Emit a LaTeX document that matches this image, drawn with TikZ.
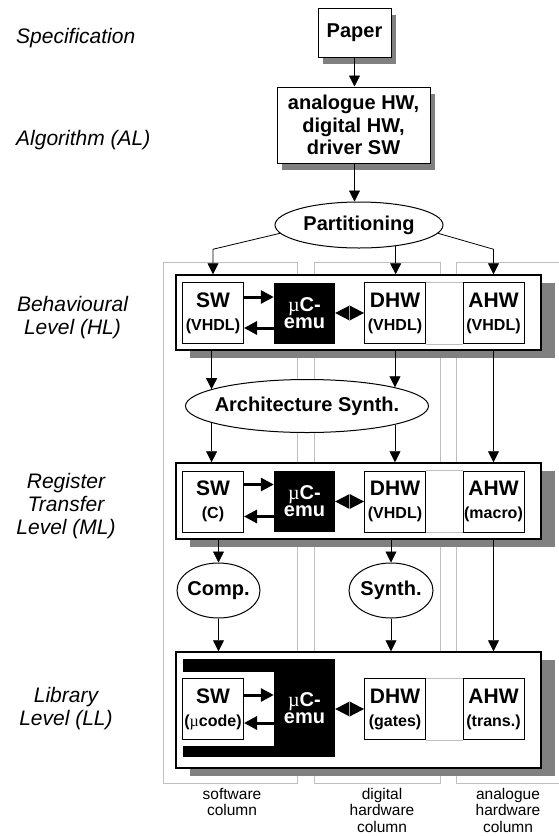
\documentclass[tikz,border=0pt]{standalone}
\usepackage{fontspec}
\setmainfont{Liberation Sans}
\newfontfamily\serifmu{Liberation Serif}
\usepackage{tikz}
\usetikzlibrary{shapes}
\usetikzlibrary{arrows.meta}
\usetikzlibrary{shadows}
\usetikzlibrary{calc}
\tikzstyle{frame}=[draw=black!25,line width=0.8pt]
\tikzstyle{link}=[draw=black!25,line width=0.8pt]
\tikzstyle{box}=[draw,fill=white,line width=1pt,inner sep=0pt,align=center,font=\bfseries\fontsize{20}{22.5}\selectfont,drop shadow={shadow xshift=5pt,shadow yshift=-7pt,opacity=1,fill=black!50}]
\tikzstyle{level}=[draw,fill=white,line width=1.5pt,minimum width=365pt,inner sep=0pt,drop shadow={shadow xshift=14pt,shadow yshift=-8pt,opacity=1,fill=black!50}]
\tikzstyle{item}=[draw,fill=white,line width=1pt,inner sep=0pt,minimum width=61pt,minimum height=61pt,align=center,font=\bfseries\fontsize{21}{23}\selectfont]
\tikzstyle{emu}=[fill=black,text=white,inner sep=0pt,minimum width=61pt,minimum height=61pt,align=center,font=\bfseries\fontsize{20}{17}\selectfont]
\tikzstyle{op}=[ellipse,draw,fill=white,line width=1pt,inner ysep=0pt,inner xsep=-14pt,font=\bfseries\fontsize{20}{22}\selectfont]
\tikzstyle{lbl}=[align=center,inner sep=0pt,font=\itshape\fontsize{21}{23}\selectfont]
\tikzstyle{col}=[align=center,inner sep=0pt,anchor=north,font=\fontsize{15.5}{16.5}\selectfont]
\tikzstyle{arr}=[-{Triangle[length=11pt,width=11pt]},line width=0.8pt]
\tikzstyle{fat}=[-{Triangle[length=13pt,width=13pt]},line width=3pt]
\newcommand{\itemsub}[1]{{\fontsize{16}{23}\selectfont #1}}
\newcommand{\mup}{{\serifmu\mdseries µ}}
\newcommand{\emulink}[2]{%
  \fill (#1.east |- #2) -- ($(#1.east |- #2)!.5!(#2.west)+(0,-7.5)$) -- (#2.west)
    -- ($(#1.east |- #2)!.5!(#2.west)+(0,7.5)$) -- cycle;
  \draw[black!35,line width=0.5pt] ($(#1.east |- #2)!.5!(#2.west)+(0,-7.5)$)
    -- ($(#1.east |- #2)!.5!(#2.west)+(0,7.5)$);}

\begin{document}
\begin{tikzpicture}[x=1pt,y=-1pt]
      \useasboundingbox (0,0) rectangle (559,836);
      \draw[frame] (163,262) rectangle (297,783);
      \draw[frame] (314,262) rectangle (440,783);
      \draw[frame] (456,262) rectangle (570,783);

      \node[lbl,anchor=west] at (16,38) (spec) {Specification};
      \node[lbl,anchor=west] at (16,140) (algl) {Algorithm (AL)};
      \node[lbl] at (72.5,318) (hl) {Behavioural\\Level (HL)};
      \node[lbl] at (66,506) (ml) {Register\\Transfer\\Level (ML)};
      \node[lbl] at (66,709) (ll) {Library\\Level (LL)};

      \node[box,minimum width=73pt,minimum height=49pt] at (354.5,32.5) (paper) {Paper};
      \node[box,minimum width=153pt,minimum height=76pt] at (353.5,125) (alg) {analogue HW,\\digital HW,\\driver SW};
      \node[op,minimum width=168pt,minimum height=46pt] at (359,225) (part) {Partitioning};

      \node[level,minimum height=75pt] at (358.5,312.5) (lvl1) {};
      \node[item] at (213,313) (sw1) {SW\\\itemsub{(VHDL)}};
      \node[emu] at (304.5,313) (emu1) {\mup C-\\emu};
      \node[item] at (395,313) (dhw1) {DHW\\\itemsub{(VHDL)}};
      \node[item] at (493.5,313) (ahw1) {AHW\\\itemsub{(VHDL)}};

      \node[op,minimum width=243pt,minimum height=53pt] at (307,406) (arch) {Architecture Synth.};

      \node[level,minimum height=76pt] at (358.5,501) (lvl2) {};
      \node[item] at (213,501.5) (sw2) {SW\\\itemsub{(C)}};
      \node[emu] at (304.5,501.5) (emu2) {\mup C-\\emu};
      \node[item] at (395,501.5) (dhw2) {DHW\\\itemsub{(VHDL)}};
      \node[item] at (493.5,501.5) (ahw2) {AHW\\\itemsub{(macro)}};

      \node[op,minimum width=83pt,minimum height=55pt] at (218.5,590.5) (comp) {Comp.};
      \node[op,minimum width=84pt,minimum height=55pt] at (391,590.5) (synth) {Synth.};

      \node[level,minimum height=116pt] at (358.5,710) (lvl3) {};
      \fill (183,659) rectangle (335,672);
      \fill (183,746) rectangle (335,757);
      \node[item] at (213,709) (sw3) {SW\\\itemsub{(\mup code)}};
      \node[emu,minimum height=98pt] at (304.5,708) (emu3) {\mup C-\\emu};
      \node[item] at (395,709) (dhw3) {DHW\\\itemsub{(gates)}};
      \node[item] at (493.5,709) (ahw3) {AHW\\\itemsub{(trans.)}};

      \draw[link] (dhw1.north east) -- (ahw1.north west);
      \draw[link] (dhw1.south east) -- (ahw1.south west);
      \draw[link] (dhw2.north east) -- (ahw2.north west);
      \draw[link] (dhw2.south east) -- (ahw2.south west);
      \draw[link] (dhw3.north east) -- (ahw3.north west);
      \draw[link] (dhw3.south east) -- (ahw3.south west);

      \draw[fat] ($(sw1.north east)+(0,15)$) -- ($(sw1.north east -| emu1.west)+(0,15)$);
      \draw[fat] ($(sw1.north east -| emu1.west)+(0,46)$) -- ($(sw1.north east)+(0,46)$);
      \draw[fat] ($(sw2.north east)+(0,14)$) -- ($(sw2.north east -| emu2.west)+(0,14)$);
      \draw[fat] ($(sw2.north east -| emu2.west)+(0,46)$) -- ($(sw2.north east)+(0,46)$);
      \draw[fat] ($(sw3.north east)+(0,17)$) -- ($(sw3.north east -| emu3.west)+(0,17)$);
      \draw[fat] ($(sw3.north east -| emu3.west)+(0,45)$) -- ($(sw3.north east)+(0,45)$);
      \emulink{emu1}{dhw1}
      \emulink{emu2}{dhw2}
      \emulink{emu3}{dhw3}

      \draw[arr] (paper.south) -- (paper.south |- alg.north);
      \draw[arr] (paper.south |- alg.south) -- (paper.south |- part.north);
      \draw[arr] (part.186) -- ($(sw1 |- lvl1.north)+(0,-25)$) -- (sw1 |- lvl1.north);
      \draw[arr] (part.330) -- (part.330 |- lvl1.north);
      \draw[arr] (part.354) -- ($(ahw1 |- lvl1.north)+(0,-25)$) -- (ahw1 |- lvl1.north);
      \draw[arr] (arch.170 |- lvl1.south) -- (arch.170);
      \draw[arr] (arch.12 |- lvl1.south) -- (arch.12);
      \draw[arr] (ahw1 |- lvl1.south) -- (ahw1 |- lvl2.north);
      \draw[arr] (arch.190) -- (arch.190 |- lvl2.north);
      \draw[arr] (arch.348) -- (arch.348 |- lvl2.north);
      \draw[arr] (comp |- lvl2.south) -- (comp.north);
      \draw[arr] (synth |- lvl2.south) -- (synth.north);
      \draw[arr] (ahw2 |- lvl2.south) -- (ahw2 |- lvl3.north);
      \draw[arr] (comp.south) -- (comp |- lvl3.north);
      \draw[arr] (synth.south) -- (synth |- lvl3.north);

      \node[col] at (232,788) (swcol) {software\\column};
      \node[col] at (382,788) (dcol) {digital\\hardware\\column};
      \node[col] at (508,788) (acol) {analogue\\hardware\\column};
    \end{tikzpicture}
\end{document}
